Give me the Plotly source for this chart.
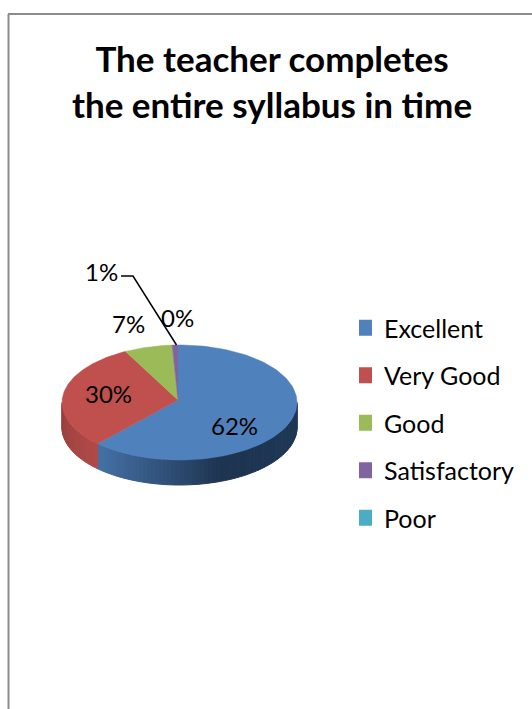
"""Oblique 3D-style pie: The teacher completes the entire syllabus in time."""
import numpy as np
import plotly.graph_objects as go

categories = ["Excellent", "Very Good", "Good", "Satisfactory", "Poor"]
shares = [62.49, 30.11, 6.6, 0.8, 0.0]
colors = ["#4f81bd", "#c0504d", "#9bbb59", "#8064a2", "#4bacc6"]

title_text = "The teacher completes<br>the entire syllabus in time"
FONT = "Lato, Carlito, Calibri, sans-serif"

# pie geometry in page pixels
CX, CY, RX, RY, DEPTH = 179.5, 402.5, 117.5, 57.5, 25
APEX_X, APEX_Y = 178, 400
START_DEG = -0.7

# label anchors for each slice, pixels
label_xy = [(234, 425), (108, 393), (128, 323), (101, 271), (177, 317)]
leader_x = [121, 133, 176.5]
leader_y = [276, 276, 345]

# shading along the side wall, by page x
wall_stops_x = [92, 140, 220, 297]
wall_stops_blue = [(70, 116, 168), (56, 93, 138), (31, 53, 81), (30, 56, 86)]
wall_stops_red = [(176, 74, 72), (152, 64, 62)]


def rim(deg):
    a = np.radians(deg)
    return CX + RX * np.sin(a), CY - RY * np.cos(a)


def wall_strip(a0, a1):
    xs0, ys0 = rim(np.linspace(a0, a1, 6))
    return (np.r_[xs0, xs0[::-1], xs0[0]],
            np.r_[ys0, ys0[::-1] + DEPTH, ys0[0]])


def wall_color(slice_idx, t, x):
    if slice_idx == 0:
        rgb = [np.interp(x, wall_stops_x, [s[k] for s in wall_stops_blue]) for k in range(3)]
    else:
        rgb = [np.interp(t, [0, 1], [s[k] for s in wall_stops_red]) for k in range(3)]
    return "rgb(%d,%d,%d)" % tuple(rgb)


fig = go.Figure()
edges = START_DEG + np.r_[0, np.cumsum(shares)] / sum(shares) * 360

# side wall first, only the front half (90-270 deg) is visible
for i in range(len(categories)):
    a0, a1 = max(edges[i], 90), min(edges[i + 1], 270)
    if a1 <= a0:
        continue
    n = max(int((a1 - a0) / 2), 1)
    cuts = np.linspace(a0, a1, n + 1)
    for j in range(n):
        xs, ys = wall_strip(cuts[j], cuts[j + 1])
        col = wall_color(i, j / n, xs.mean())
        fig.add_trace(go.Scatter(
            x=xs, y=ys, mode="lines", fill="toself", fillcolor=col,
            line=dict(color=col, width=1), showlegend=False,
            legendgroup=categories[i], hoverinfo="skip"))

# top face
for i, name in enumerate(categories):
    if shares[i] == 0:
        continue
    xs, ys = rim(np.linspace(edges[i], edges[i + 1], 120))
    fig.add_trace(go.Scatter(
        x=np.r_[APEX_X, xs, APEX_X], y=np.r_[APEX_Y, ys, APEX_Y],
        mode="lines", fill="toself", fillcolor=colors[i],
        line=dict(color=colors[i], width=0.5), showlegend=False,
        legendgroup=name, name=name,
        hovertemplate="%s<br>%.1f%%<extra></extra>" % (name, shares[i])))

# legend swatches
for i, name in enumerate(categories):
    fig.add_trace(go.Scatter(
        x=[None], y=[None], mode="markers", name=name, legendgroup=name,
        marker=dict(symbol="square", size=16, color=colors[i])))

# leader line for the 1% label
fig.add_trace(go.Scatter(
    x=leader_x, y=leader_y, mode="lines", line=dict(color="black", width=1.5),
    showlegend=False, hoverinfo="skip"))

for (x, y), share in zip(label_xy, shares):
    fig.add_annotation(
        x=x, y=y, text="%d%%" % round(share), showarrow=False,
        font=dict(family=FONT, size=24, color="black"),
        xanchor="center", yanchor="middle")

# chart frame runs off the right and bottom of the page
fig.add_shape(type="line", x0=8.5, x1=8.5, y0=14, y1=709,
              line=dict(color="#8c8c8c", width=2))
fig.add_shape(type="line", x0=8, x1=532, y0=14, y1=14,
              line=dict(color="#8c8c8c", width=2))

fig.update_layout(
    width=532,
    height=709,
    margin=dict(l=0, r=0, t=0, b=0),
    paper_bgcolor="white",
    plot_bgcolor="white",
    title=dict(text=title_text, x=272 / 532, xanchor="center", y=1 - 72 / 709,
               yanchor="top", font=dict(family=FONT, size=35, color="black", weight="bold")),
    xaxis=dict(range=[0, 532], visible=False, fixedrange=True),
    yaxis=dict(range=[709, 0], visible=False, fixedrange=True),
    legend=dict(x=359 / 532, y=1 - 305 / 709, xanchor="left", yanchor="top",
                font=dict(family=FONT, size=25, color="black"),
                tracegroupgap=12, indentation=-15, bgcolor="rgba(0,0,0,0)"),
)

fig.write_html("out.html", post_script="document.body.style.margin='0';",
               config=dict(displayModeBar=False))
